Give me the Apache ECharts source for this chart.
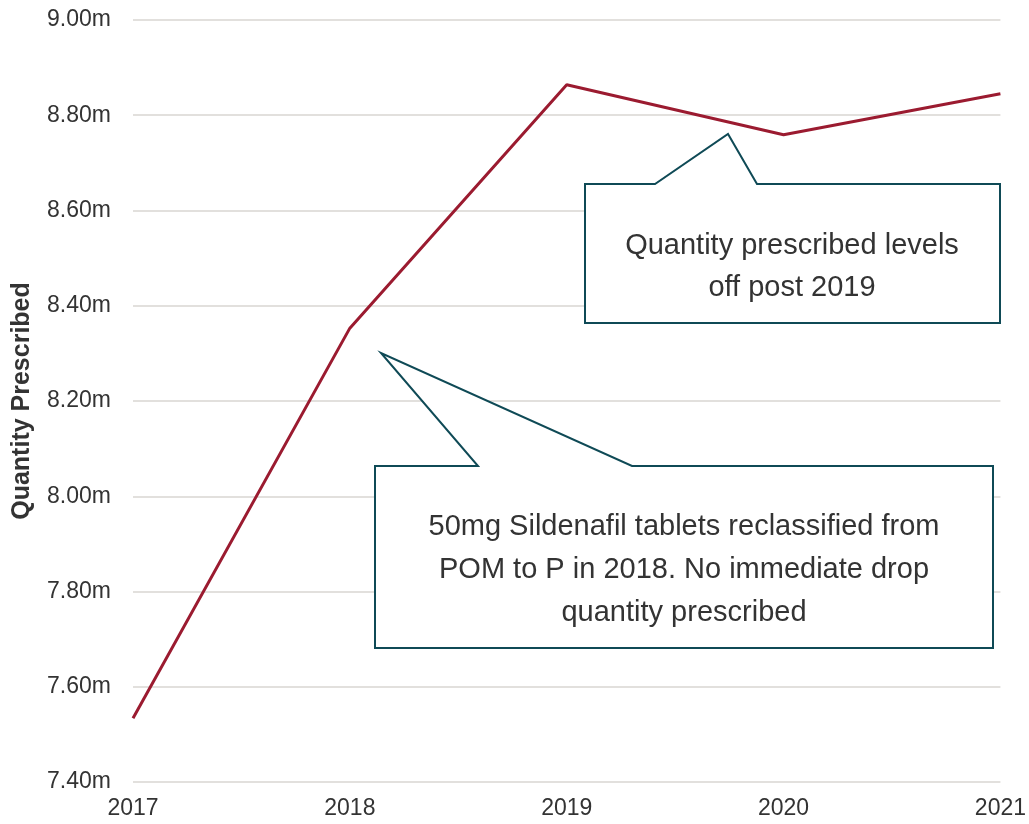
<!DOCTYPE html>
<html><head><meta charset="utf-8">
<script src="https://cdn.jsdelivr.net/npm/echarts@6/dist/echarts.min.js"></script>
<style>html,body{margin:0;padding:0;background:#fff}#c{width:1029px;height:824px}</style>
</head><body><div id="c"></div>
<script>
const years = ['2017','2018','2019','2020','2021'];
const quantity = [7.534, 8.353, 8.864, 8.759, 8.845];
const yMin = 7.4, yMax = 9.0, yStep = 0.2;
const yAxisTitle = 'Quantity Prescribed';
const note1 = ['Quantity prescribed levels', 'off post 2019'];
const note2 = ['50mg Sildenafil tablets reclassified from', 'POM to P in 2018. No immediate drop', 'quantity prescribed'];

const chart = echarts.init(document.getElementById('c'));
const font = 'Liberation Sans, Arial, sans-serif';
const stroke = '#0f4a56';
const textColor = '#333333';

function callout(box, ptr) {
  const [x1,y1,x2,y2] = box;
  return [[x1,y1],[ptr[0],y1],[ptr[1],ptr[2]],[ptr[3],y1],[x2,y1],[x2,y2],[x1,y2]];
}
function lines(arr, cx, y0, dy) {
  return arr.map((t,i)=>({type:'text', x:cx, y:y0+i*dy, z:101,
    style:{text:t, fill:textColor, font:'29px '+font, textAlign:'center', textVerticalAlign:'middle'}}));
}

chart.setOption({
  animation:false,
  grid:{left:133, right:28, top:20, bottom:42},
  xAxis:{type:'category', data:years, boundaryGap:false,
    axisLine:{show:false}, axisTick:{show:false},
    axisLabel:{color:textColor, fontSize:23, fontFamily:font, margin:15},
    splitLine:{show:false}},
  yAxis:{type:'value', min:yMin, max:yMax, interval:yStep,
    name:yAxisTitle, nameLocation:'middle', nameGap:98,
    nameTextStyle:{fontSize:25, fontWeight:'bold', color:textColor, fontFamily:font},
    axisLine:{show:false}, axisTick:{show:false},
    axisLabel:{color:textColor, fontSize:23, fontFamily:font, margin:22,
      formatter:v=>v.toFixed(2)+'m'},
    splitLine:{lineStyle:{color:'#e2e0dd', width:2}}},
  series:[{type:'line', data:quantity, symbol:'none',
    lineStyle:{color:'#9b1b30', width:3}, itemStyle:{color:'#9b1b30'}}],
  graphic:[
    {type:'polygon', z:100, shape:{points:callout([585,184,1000,323],[655,728,134,757])},
      style:{fill:'#fff', stroke:stroke, lineWidth:2}},
    ...lines(note1, 792, 246, 42),
    {type:'polygon', z:100, shape:{points:callout([375,466,993,648],[478,381,353,632])},
      style:{fill:'#fff', stroke:stroke, lineWidth:2}},
    ...lines(note2, 684, 527, 43)
  ]
});
</script></body></html>
